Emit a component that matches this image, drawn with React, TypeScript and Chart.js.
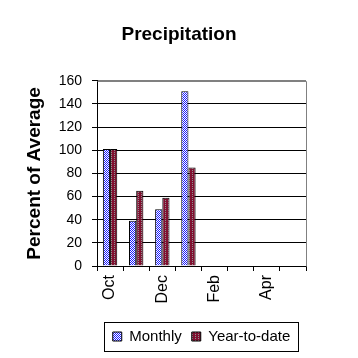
import React, { useEffect, useRef } from 'react';
import { Chart, registerables } from 'chart.js';

Chart.register(...registerables);

const categories = ['Oct', 'Nov', 'Dec', 'Jan', 'Feb', 'Mar', 'Apr', 'May'];
const monthly = [101, 39, 49, 151, null, null, null, null];
const yearToDate = [101, 65, 59, 85, null, null, null, null];
const shownLabels = ['Oct', 'Dec', 'Feb', 'Apr'];
const yMin = 0;
const yMax = 160;
const yStep = 20;

const FONT = '"Liberation Sans", Arial, sans-serif';

function makePattern(cells: string[][]): CanvasPattern | string {
  const c = document.createElement('canvas');
  c.width = cells[0].length;
  c.height = cells.length;
  const g = c.getContext('2d')!;
  cells.forEach((row, y) =>
    row.forEach((col, x) => {
      g.fillStyle = col;
      g.fillRect(x, y, 1, 1);
    })
  );
  const p = g.createPattern(c, 'repeat');
  return p || cells[0][0];
}

const framePlugin = {
  id: 'frame',
  afterDraw(chart: any) {
    const { ctx, chartArea } = chart;
    ctx.save();
    ctx.strokeStyle = '#808080';
    ctx.lineWidth = 1;
    ctx.beginPath();
    ctx.moveTo(Math.round(chartArea.left) + 0.5, Math.round(chartArea.top) + 0.5);
    ctx.lineTo(Math.round(chartArea.right) + 0.5, Math.round(chartArea.top) + 0.5);
    ctx.lineTo(Math.round(chartArea.right) + 0.5, Math.round(chartArea.bottom) + 0.5);
    ctx.stroke();
    const boxes = chart.legend && chart.legend.legendHitBoxes;
    if (boxes && boxes.length) {
      const first = boxes[0];
      const last = boxes[boxes.length - 1];
      const l = Math.round(first.left - 9) + 0.5;
      const r = Math.round(last.left + last.width + 8) + 0.5;
      const t = Math.round(first.top - 7) + 0.5;
      const b = Math.round(first.top + first.height + 7) + 0.5;
      ctx.strokeStyle = '#000';
      ctx.strokeRect(l, t, r - l, b - t);
    }
    ctx.restore();
  },
};

export default function App() {
  const ref = useRef<HTMLCanvasElement | null>(null);

  useEffect(() => {
    if (!ref.current) return;
    const B = '#1a1aff';
    const W = '#ffffff';
    const M = '#801030';
    const G = '#909090';
    const monthlyFill = makePattern([
      [B, W],
      [W, B],
    ]);
    const ytdFill = makePattern([
      [G, M, M],
      [M, M, M],
    ]);

    const chart = new Chart(ref.current, {
      type: 'bar',
      data: {
        labels: categories,
        datasets: [
          {
            label: 'Monthly',
            data: monthly,
            backgroundColor: monthlyFill as any,
            borderColor: '#000',
            borderWidth: 1,
            categoryPercentage: 0.55,
            barPercentage: 1.0,
          },
          {
            label: 'Year-to-date',
            data: yearToDate,
            backgroundColor: ytdFill as any,
            borderColor: '#000',
            borderWidth: 1,
            categoryPercentage: 0.55,
            barPercentage: 1.0,
          },
        ],
      },
      options: {
        responsive: false,
        animation: false,
        layout: { padding: { left: 0, right: 0, top: 0, bottom: 4 } },
        plugins: {
          title: {
            display: true,
            text: 'Precipitation',
            color: '#000',
            font: { family: FONT, size: 19, weight: 'bold' },
            padding: { top: 23, bottom: 35 },
          },
          legend: {
            position: 'bottom',
            fullSize: false,
            labels: {
              color: '#000',
              font: { family: FONT, size: 15 },
              boxWidth: 9,
              boxHeight: 9,
              padding: 10,
            },
          },
          tooltip: { enabled: false },
        },
        scales: {
          x: {
            grid: {
              offset: true,
              drawOnChartArea: false,
              drawTicks: true,
              tickLength: 5,
              color: '#000',
            },
            border: { color: '#000', width: 1 },
            ticks: {
              autoSkip: false,
              maxRotation: 90,
              minRotation: 90,
              color: '#000',
              padding: 4,
              font: { family: FONT, size: 16 },
              callback: (_v: any, i: number) =>
                shownLabels.includes(categories[i]) ? categories[i] : '',
            },
            afterFit: (s: any) => {
              s.height = 53;
            },
          },
          y: {
            min: yMin,
            max: yMax,
            grid: {
              color: (c: any) => (c.tick && c.tick.value === yMax ? '#808080' : '#000'),
              tickColor: '#000',
              tickLength: 5,
            },
            border: { color: '#000', width: 1 },
            ticks: {
              stepSize: yStep,
              color: '#000',
              padding: 10,
              font: { family: FONT, size: 14 },
            },
            title: {
              display: true,
              text: 'Percent of Average',
              color: '#000',
              font: { family: FONT, size: 19, weight: 'bold' },
              padding: { top: 23, bottom: 0 },
            },
            afterFit: (s: any) => {
              s.width = 97;
            },
          },
          yRight: {
            position: 'right',
            display: true,
            grid: { drawOnChartArea: false, drawTicks: false },
            border: { display: false },
            ticks: { display: false },
            afterFit: (s: any) => {
              s.width = 52;
            },
          },
        },
      },
      plugins: [framePlugin],
    });
    return () => chart.destroy();
  }, []);

  return (
    <div style={{ position: 'absolute', left: 0, top: 0, width: 358, height: 358, background: '#fff' }}>
      <canvas ref={ref} width={358} height={358} />
    </div>
  );
}
